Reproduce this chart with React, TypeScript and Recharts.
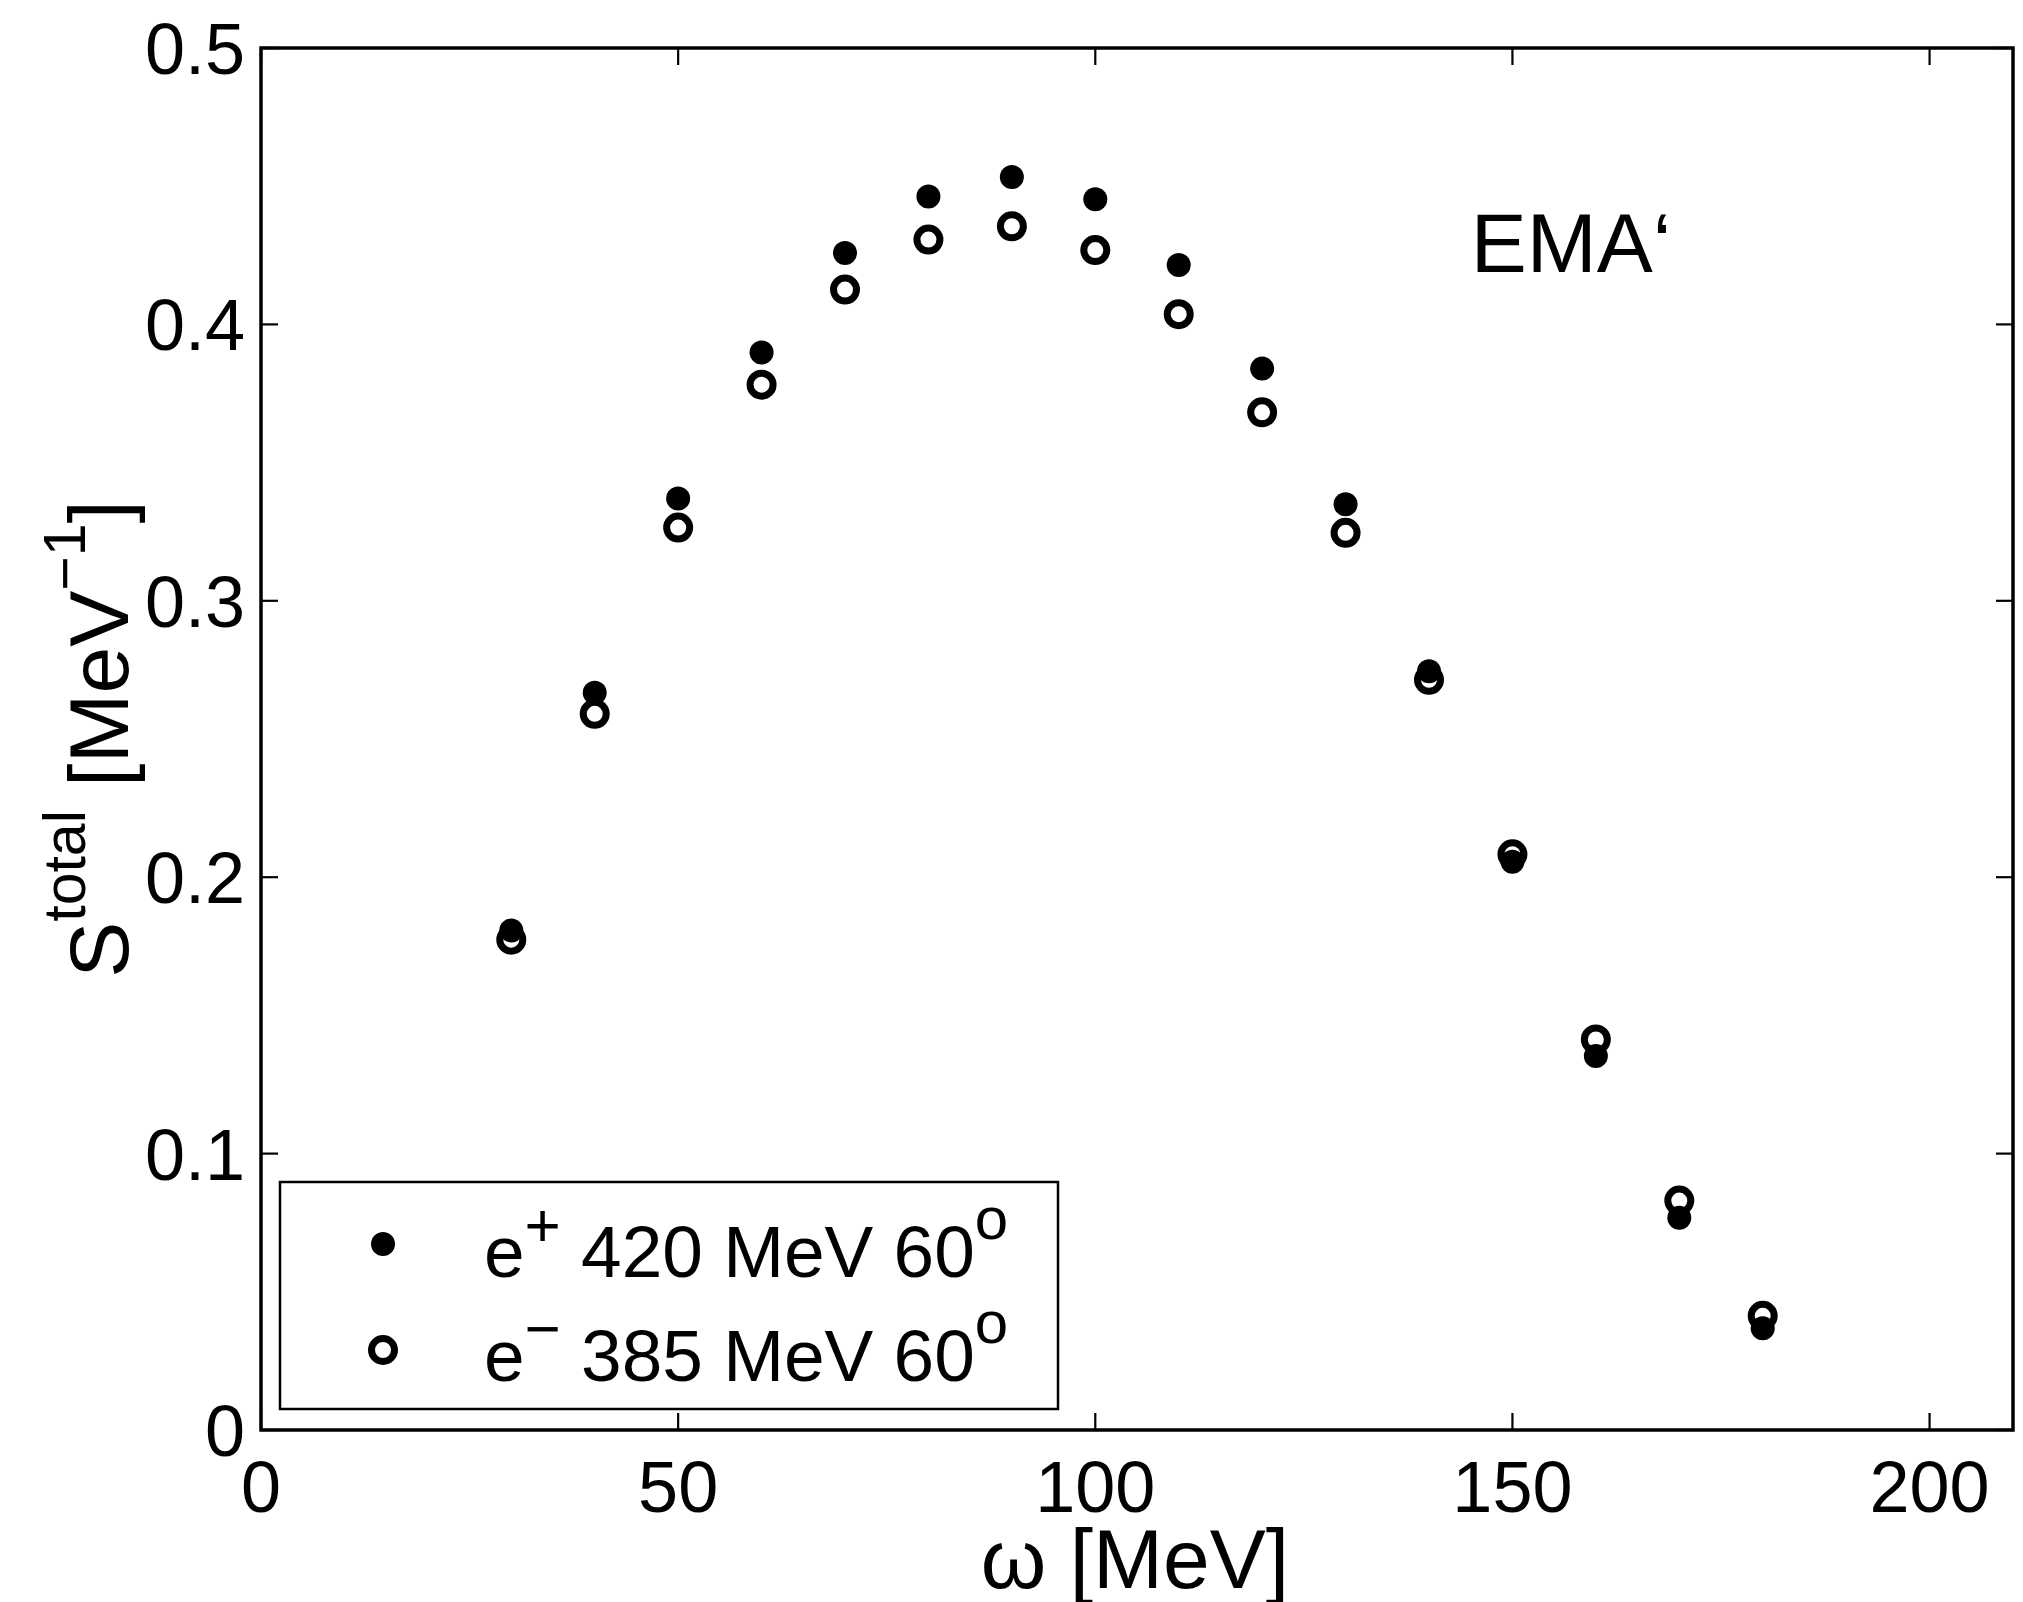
import React from 'react';
import {
  ScatterChart,
  Scatter,
  XAxis,
  YAxis,
  ReferenceArea,
  ReferenceLine,
  ReferenceDot,
  Customized,
} from 'recharts';

// ω in MeV
const omega = [30, 40, 50, 60, 70, 80, 90, 100, 110, 120, 130, 140, 150, 160, 170, 180];
// e+ 420 MeV 60°
const positron = [0.1807, 0.2667, 0.337, 0.3898, 0.4258, 0.4463, 0.4533, 0.4453, 0.4215, 0.384, 0.3349, 0.2745, 0.2056, 0.1353, 0.0768, 0.0368];
// e- 385 MeV 60°
const electron = [0.1774, 0.2591, 0.3265, 0.3782, 0.4126, 0.4307, 0.4355, 0.4269, 0.4037, 0.3682, 0.3246, 0.2714, 0.2083, 0.1413, 0.083, 0.0413];

const xTicks = [0, 50, 100, 150, 200];
const yTicks = [0, 0.1, 0.2, 0.3, 0.4, 0.5];
const X_MAX = 210;
const Y_MAX = 0.5;

const seriesNames = [
  { sign: '+', rest: ' 420 MeV 60' },
  { sign: '\u2212', rest: ' 385 MeV 60' },
];

const FONT = '"Liberation Sans", Arial, Helvetica, sans-serif';
const TICK_LEN_X = 2.04; // 17px in x units
const TICK_LEN_Y = 0.00615; // 17px in y units

const positronData = omega.map((w, i) => ({ w, s: positron[i] }));
const electronData = omega.map((w, i) => ({ w, s: electron[i] }));

const FilledDot = (p: any) => <circle cx={p.cx} cy={p.cy} r={12} fill="#000" />;
const OpenDot = (p: any) => (
  <circle cx={p.cx} cy={p.cy} r={11.5} fill="none" stroke="#000" strokeWidth={7} />
);

const YTick = (props: any) => {
  const { x, y, payload } = props;
  return (
    <text x={x} y={y} dy="0.36em" textAnchor="end" fontSize={72} fontFamily={FONT} fill="#000">
      {String(payload.value)}
    </text>
  );
};

const XTick = (props: any) => {
  const { x, y, payload } = props;
  return (
    <text x={x} y={y + 82} textAnchor="middle" fontSize={72} fontFamily={FONT} fill="#000">
      {String(payload.value)}
    </text>
  );
};

const YLabel = (props: any) => {
  const vb = props.viewBox || { x: 0, y: 48, width: 261, height: 1382 };
  const cx = 128;
  const cy = vb.y + vb.height / 2;
  return (
    <text
      x={cx}
      y={cy}
      transform={`rotate(-90 ${cx} ${cy})`}
      textAnchor="middle"
      fontSize={84}
      fontFamily={FONT}
      fill="#000"
      style={{ whiteSpace: 'pre' }}
    >
      S
      <tspan fontSize={59} dy={-43}>total</tspan>
      <tspan dy={43}>{' [MeV'}</tspan>
      <tspan fontSize={59} dy={-43}>{'\u22121'}</tspan>
      <tspan dy={43}>]</tspan>
    </text>
  );
};

const XLabel = (props: any) => {
  const vb = props.viewBox || { x: 261, y: 1430, width: 1752, height: 172 };
  return (
    <text
      x={vb.x + vb.width / 2 - 2}
      y={vb.y + 158}
      textAnchor="middle"
      fontSize={84}
      fontFamily={FONT}
      fill="#000"
      style={{ whiteSpace: 'pre' }}
    >
      {'\u03c9 [MeV]'}
    </text>
  );
};

const EmaLabel = (props: any) => {
  const vb = props.viewBox || { x: 0, y: 0 };
  return (
    <text x={vb.x} y={vb.y} fontSize={84} fontFamily={FONT} fill="#000">
      {'EMA\u2018'}
    </text>
  );
};

// legend box drawn in the svg, on top of the plot frame
const LegendBox = () => (
  <g>
    <rect x={280} y={1182} width={778} height={227} fill="#fff" stroke="#000" strokeWidth={2.5} />
    <circle cx={383} cy={1244} r={12} fill="#000" />
    <circle cx={383} cy={1350} r={11.5} fill="none" stroke="#000" strokeWidth={7} />
    {seriesNames.map((n, i) => (
      <text
        key={i}
        x={484}
        y={1277 + i * 104}
        fontSize={73}
        fontFamily={FONT}
        fill="#000"
        style={{ whiteSpace: 'pre' }}
      >
        e
        <tspan fontSize={62} dy={-31}>{n.sign}</tspan>
        <tspan dy={31}>{n.rest}</tspan>
        <tspan fontSize={60} dy={-38}>o</tspan>
      </text>
    ))}
  </g>
);

export default function App() {
  return (
    <div style={{ position: 'absolute', left: 0, top: 0, width: 2023, height: 1602, background: '#fff' }}>
      <ScatterChart width={2023} height={1602} margin={{ top: 48, right: 10, bottom: 0, left: 0 }}>
        <XAxis
          type="number"
          dataKey="w"
          domain={[0, X_MAX]}
          ticks={xTicks}
          allowDataOverflow
          height={172}
          axisLine={false}
          tickLine={false}
          tickSize={0}
          tickMargin={0}
          tick={<XTick />}
          label={{ content: XLabel }}
        />
        <YAxis
          type="number"
          dataKey="s"
          domain={[0, Y_MAX]}
          ticks={yTicks}
          allowDataOverflow
          width={261}
          axisLine={false}
          tickLine={false}
          tickSize={0}
          tickMargin={16}
          tick={<YTick />}
          label={{ content: YLabel }}
        />
        <ReferenceArea
          x1={0}
          x2={X_MAX}
          y1={0}
          y2={Y_MAX}
          fill="none"
          fillOpacity={0}
          stroke="#000"
          strokeWidth={3.5}
        />
        {xTicks.map((t) => (
          <ReferenceLine key={`xb${t}`} segment={[{ x: t, y: 0 }, { x: t, y: TICK_LEN_Y }]} stroke="#000" strokeWidth={2.2} />
        ))}
        {xTicks.map((t) => (
          <ReferenceLine key={`xt${t}`} segment={[{ x: t, y: Y_MAX }, { x: t, y: Y_MAX - TICK_LEN_Y }]} stroke="#000" strokeWidth={2.2} />
        ))}
        {yTicks.map((t) => (
          <ReferenceLine key={`yl${t}`} segment={[{ x: 0, y: t }, { x: TICK_LEN_X, y: t }]} stroke="#000" strokeWidth={2.2} />
        ))}
        {yTicks.map((t) => (
          <ReferenceLine key={`yr${t}`} segment={[{ x: X_MAX, y: t }, { x: X_MAX - TICK_LEN_X, y: t }]} stroke="#000" strokeWidth={2.2} />
        ))}
        <ReferenceDot x={145} y={0.419} r={0} fill="none" stroke="none" label={{ content: EmaLabel }} />
        <Scatter name="e+ 420 MeV 60o" data={positronData} shape={FilledDot} isAnimationActive={false} />
        <Scatter name="e- 385 MeV 60o" data={electronData} shape={OpenDot} isAnimationActive={false} />
        <Customized component={LegendBox} />
      </ScatterChart>
    </div>
  );
}
